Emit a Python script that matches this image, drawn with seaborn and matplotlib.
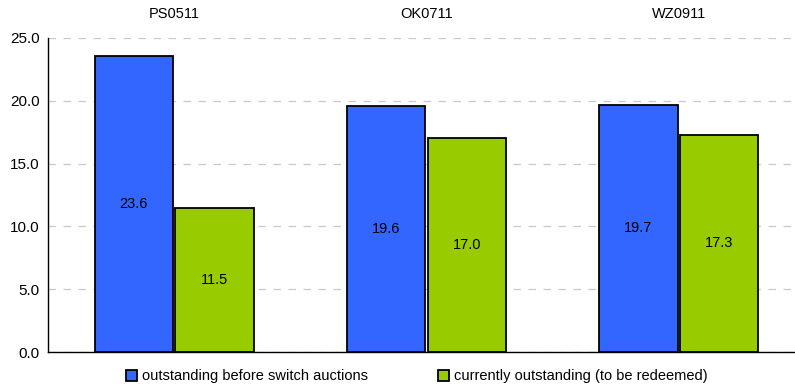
# Outstanding amounts per bond line, before and after switch auctions

import numpy as np
import matplotlib.pyplot as plt
import seaborn as sns
import pandas as pd

sns.set_style('white')
plt.rcParams['font.family'] = ['Liberation Sans', 'DejaVu Sans']
plt.rcParams['text.color'] = 'black'
plt.rcParams['xtick.color'] = 'black'
plt.rcParams['ytick.color'] = 'black'

bonds = ['PS0511', 'OK0711', 'WZ0911']
before = [23.6, 19.6, 19.7]
current = [11.5, 17.0, 17.3]
series = ['outstanding before switch auctions', 'currently outstanding (to be redeemed)']
colors = ['#3366FF', '#99CC00']

df = pd.DataFrame({
    'bond': bonds * 2,
    'value': before + current,
    'series': [series[0]] * 3 + [series[1]] * 3,
})

fig = plt.figure(figsize=(7.95, 3.85), dpi=100)
ax = fig.add_axes([48 / 795, 33 / 385, 747 / 795, 314 / 385])

sns.barplot(data=df, x='bond', y='value', hue='series', hue_order=series,
            palette=colors, saturation=1, width=0.64, gap=0.03, edgecolor='black',
            linewidth=1.3, ax=ax, legend=True, zorder=3)

# value labels in the middle of each bar
for cont in ax.containers:
    for rect in cont:
        h = rect.get_height()
        ax.text(rect.get_x() + rect.get_width() / 2, h / 2, f'{h:.1f}',
                ha='center', va='center', fontsize=10.5, color='black')

ax.set_ylim(0, 25)
ax.set_yticks(np.arange(0, 25.1, 5))
ax.set_yticklabels([f'{v:.1f}' for v in np.arange(0, 25.1, 5)], fontsize=11)
ax.set_xlim(-0.5, 2.46)
ax.xaxis.tick_top()
ax.tick_params(axis='x', length=0, labelsize=10.5, pad=12)
ax.tick_params(axis='y', length=0, pad=6)
ax.set_xlabel('')
ax.set_ylabel('')
ax.yaxis.grid(True, linestyle=(0, (6, 6)), color='#c8c8c8', linewidth=0.9, zorder=0)
ax.set_axisbelow(True)
for s in ['top', 'right']:
    ax.spines[s].set_visible(False)
for s in ['left', 'bottom']:
    ax.spines[s].set_color('black')
    ax.spines[s].set_linewidth(1.0)

handles, labels = ax.get_legend_handles_labels()
ax.get_legend().remove()
fig.legend(handles, labels, loc='lower center', bbox_to_anchor=(0.524, -0.03), ncol=2,
           frameon=False, fontsize=10.5, handlelength=0.8, handleheight=0.8,
           handletextpad=0.3, columnspacing=4.8)

fig.savefig('out.png', dpi=100)
